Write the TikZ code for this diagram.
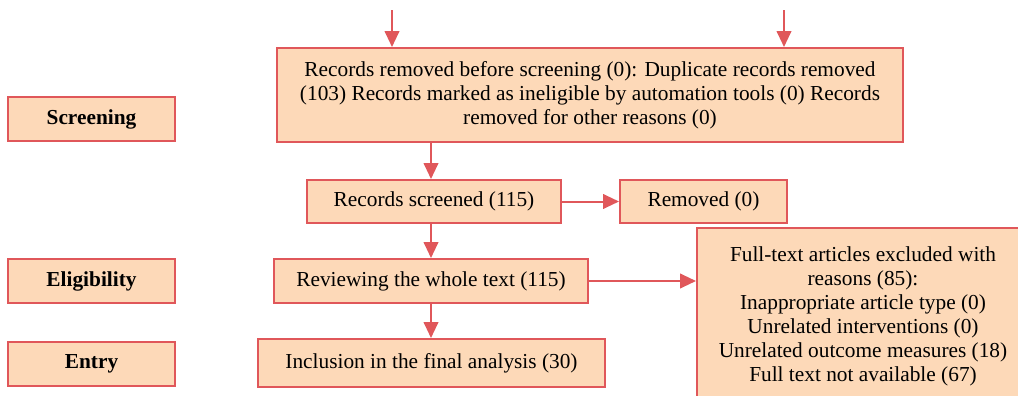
\documentclass[tikz,border=0pt]{standalone}
\usepackage{fontspec}
\setmainfont{Liberation Serif}
\usetikzlibrary{arrows.meta}

\definecolor{boxfill}{HTML}{FDD9B8}
\definecolor{boxline}{HTML}{E0575A}

\tikzset{
    flowbox/.style={draw=boxline, fill=boxfill, line width=1.5pt, inner sep=0pt,
        align=center, font=\fontsize{16}{18}\selectfont},
    stagebox/.style={flowbox, minimum width=167*0.75pt, minimum height=44*0.75pt,
        font=\fontsize{16}{18}\selectfont\bfseries},
    flowarrow/.style={draw=boxline, line width=1.5pt, -{Triangle[length=12pt,width=11pt]}}
}

\begin{document}
\begin{tikzpicture}[x=0.75pt, y=-0.75pt]
    \useasboundingbox (0,0) rectangle (1018,396);

    % Stages
    \node[stagebox] (screening)   at (91.5,119) {Screening};
    \node[stagebox] (eligibility) at (91.5,281) {Eligibility};
    \node[stagebox] (entry)       at (91.5,364) {Entry};

    % Main flow
    \node[flowbox, minimum width=626*0.75pt, minimum height=94*0.75pt] (removedbefore) at (590,95)
        {Records removed before screening (0): Duplicate records removed\\
         (103) Records marked as ineligible by automation tools (0) Records\\
         removed for other reasons (0)};
    \node[flowbox, minimum width=254*0.75pt, minimum height=43*0.75pt] (screened) at (434,201.5)
        {Records screened (115)};
    \node[flowbox, minimum width=167*0.75pt, minimum height=43*0.75pt] (removed) at (703.5,201.5)
        {Removed (0)};
    \node[flowbox, minimum width=314*0.75pt, minimum height=44*0.75pt] (review) at (431,281)
        {Reviewing the whole text (115)};
    \node[flowbox, minimum width=347*0.75pt, minimum height=48*0.75pt] (inclusion) at (431.5,363)
        {Inclusion in the final analysis (30)};
    \node[flowbox, minimum width=332*0.75pt, minimum height=176*0.75pt] (excluded) at (863,316)
        {Full-text articles excluded with\\
         reasons (85):\\
         Inappropriate article type (0)\\
         Unrelated interventions (0)\\
         Unrelated outcome measures (18)\\
         Full text not available (67)};

    % Incoming arrows
    \coordinate (inleft)  at (392,10);
    \coordinate (inright) at (784,10);
    \draw[flowarrow] (inleft)  -- (inleft  |- removedbefore.north);
    \draw[flowarrow] (inright) -- (inright |- removedbefore.north);

    % Connectors
    \draw[flowarrow] (removedbefore.south -| review.north) -- (screened.north -| review.north);
    \draw[flowarrow] (screened.south -| review.north) -- (review.north);
    \draw[flowarrow] (review.south) -- (inclusion.north -| review.south);
    \draw[flowarrow] (screened.east) -- (removed.west);
    \draw[flowarrow] (review.east) -- (review.east -| excluded.west);
\end{tikzpicture}
\end{document}
